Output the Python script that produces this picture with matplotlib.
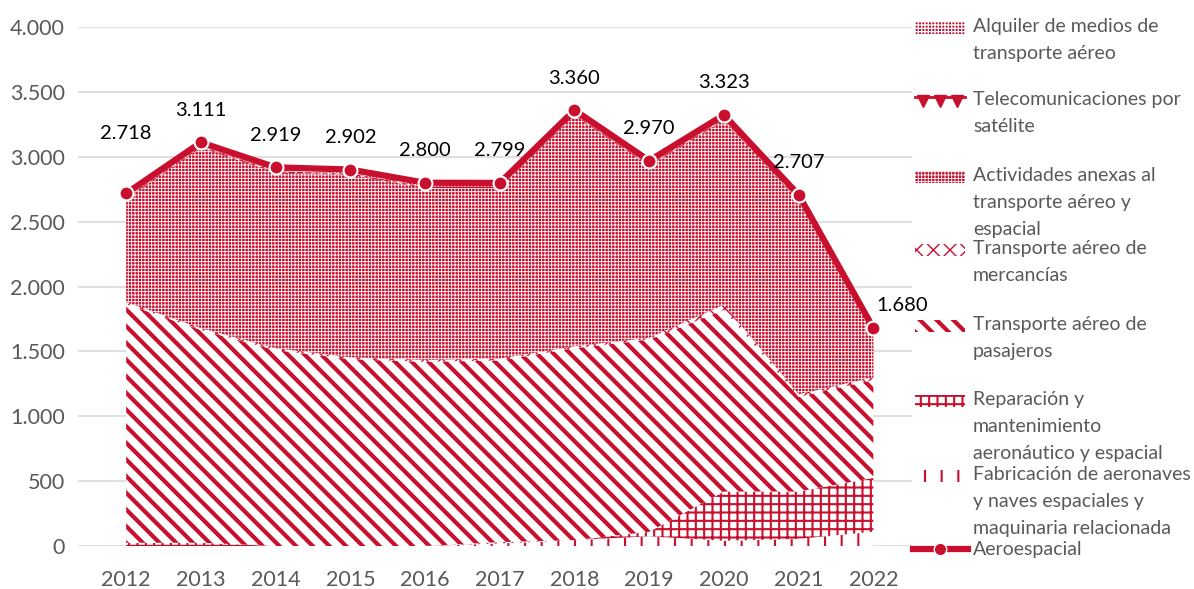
import numpy as np
import matplotlib
matplotlib.use("Agg")
import matplotlib.pyplot as plt
from matplotlib.patches import Rectangle
from matplotlib.lines import Line2D

plt.rcParams['font.family'] = ['Lato', 'DejaVu Sans']

RED = '#C8102E'
GREY = '#595959'

# data
years = [2012, 2013, 2014, 2015, 2016, 2017, 2018, 2019, 2020, 2021, 2022]
total = [2718, 3111, 2919, 2902, 2800, 2799, 3360, 2970, 3323, 2707, 1680]
fabricacion = [0, 0, 0, 0, 0, 20, 45, 75, 40, 55, 110]
reparacion = [25, 25, 0, 0, 0, 10, 0, 35, 380, 365, 415]
pasajeros = [1840, 1640, 1510, 1440, 1420, 1400, 1480, 1480, 1400, 730, 755]
mercancias = [15, 15, 15, 15, 15, 15, 15, 15, 40, 20, 20]
telecom = [10, 10, 10, 10, 10, 10, 10, 10, 10, 10, 10]
alquiler = [30, 30, 30, 30, 30, 30, 30, 30, 30, 30, 30]
# actividades anexas = rest of the total
anexas = [t - f - r - p - m - te - a for t, f, r, p, m, te, a in
          zip(total, fabricacion, reparacion, pasajeros, mercancias, telecom, alquiler)]

labels = ['Fabricación de aeronaves\ny naves espaciales y\nmaquinaria relacionada',
          'Reparación y\nmantenimiento\naeronáutico y espacial',
          'Transporte aéreo de\npasajeros',
          'Transporte aéreo de\nmercancías',
          'Actividades anexas al\ntransporte aéreo y\nespacial',
          'Telecomunicaciones por\nsatélite',
          'Alquiler de medios de\ntransporte aéreo']
series = [fabricacion, reparacion, pasajeros, mercancias, anexas, telecom, alquiler]
# (facecolor, hatch colour, hatch, hatch linewidth)
styles = [('white', RED, '|', 1.5),
          ('white', RED, '++', 1.5),
          ('white', RED, '\\\\', 3.0),
          ('white', RED, 'xx', 1.0),
          (RED, 'white', '+++++', 0.6),
          (RED, 'white', '**', 0.8),
          (RED, 'white', '+++++', 0.9)]

fig = plt.figure(figsize=(11.94, 5.89), dpi=100)
ax = fig.add_axes([0.065, 0.073, 0.699, 0.881])

x = np.array(years)
bottom = np.zeros(len(years))
for vals, (fc, hc, h, hl) in zip(series, styles):
    top = bottom + np.array(vals)
    with plt.rc_context({'hatch.linewidth': hl}):
        ax.fill_between(x, bottom, top, facecolor=fc, edgecolor=hc, hatch=h,
                        linewidth=0, zorder=2)
    bottom = top

ax.plot(x, total, color=RED, lw=4.5, marker='o', ms=10,
        markerfacecolor=RED, markeredgecolor='white', markeredgewidth=1.5, zorder=5)

for i, (yr, v) in enumerate(zip(years, total)):
    txt = f'{v:,}'.replace(',', '.')
    if i == 0:
        off = (0, 43)
    elif i == len(years) - 1:
        off = (21, 16)
    else:
        off = (0, 23)
    ax.annotate(txt, (yr, v), xytext=off, textcoords='offset points',
                ha='center', va='center', fontsize=14.5, color='black', zorder=6)

ax.set_xlim(2011.35, 2022.52)
ax.set_ylim(0, 4000)
ax.set_yticks(np.arange(0, 4001, 500))
ax.set_yticklabels([f'{v:,}'.replace(',', '.') for v in range(0, 4001, 500)])
ax.set_xticks(years)
ax.tick_params(axis='both', length=0, labelsize=15.5, labelcolor=GREY)
ax.tick_params(axis='y', pad=9)
ax.tick_params(axis='x', pad=17)
ax.grid(axis='y', color='#D9D9D9', lw=1.2, zorder=0)
ax.set_axisbelow(True)
for s in ax.spines.values():
    s.set_visible(False)

# legend drawn by hand on the right
W, H = 1194, 589
legend_y = [28, 101, 177, 250, 326, 401, 476]
order = list(range(len(labels)))[::-1]
for k, idx in enumerate(order):
    fc, hc, h, hl = styles[idx]
    yc = legend_y[k]
    if labels[idx].startswith('Telecom'):
        # little triangles hanging from a line
        fig.add_artist(Line2D([915 / W, 965 / W], [1 - (yc - 4) / H] * 2,
                              transform=fig.transFigure, color=RED, lw=2))
        fig.add_artist(Line2D([923 / W, 940 / W, 957 / W], [1 - yc / H] * 3,
                              transform=fig.transFigure, ls='none', marker='v',
                              ms=8, color=RED))
    else:
        with plt.rc_context({'hatch.linewidth': hl}):
            rect = Rectangle((915 / W, 1 - (yc + 6) / H), 50 / W, 12 / H,
                             transform=fig.transFigure, facecolor=fc, edgecolor=hc,
                             hatch=h, linewidth=0)
        fig.add_artist(rect)
    fig.text(973 / W, 1 - (yc - 10) / H, labels[idx], ha='left', va='top',
             fontsize=14, color=GREY, linespacing=1.72)

yc = 549
fig.add_artist(Line2D([913 / W, 968 / W], [1 - yc / H, 1 - yc / H],
                      transform=fig.transFigure, color=RED, lw=4.5))
fig.add_artist(Line2D([940 / W], [1 - yc / H], transform=fig.transFigure,
                      marker='o', ms=9, color=RED, markeredgecolor='white'))
fig.text(973 / W, 1 - yc / H, 'Aeroespacial', ha='left', va='center',
         fontsize=14, color=GREY)

fig.savefig('out.png', dpi=100)
